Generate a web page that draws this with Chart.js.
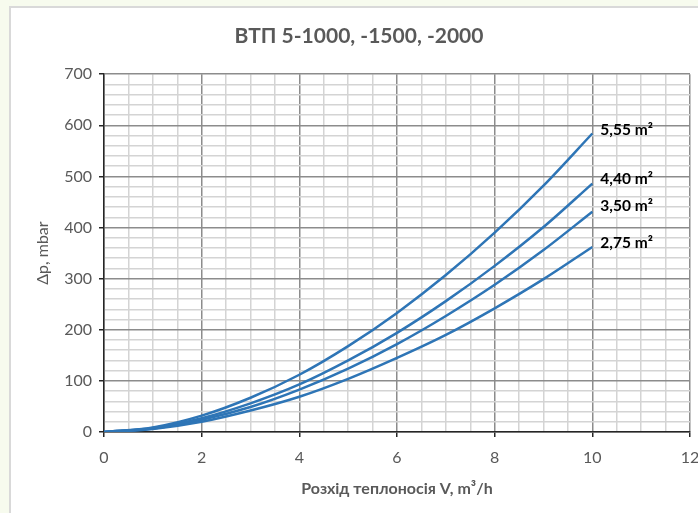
<!DOCTYPE html>
<html>
<head>
<meta charset="utf-8">
<script src="https://cdn.jsdelivr.net/npm/chart.js@4"></script>
<style>
  html, body { margin: 0; padding: 0; background: #f7fbee; }
  #wrap { width: 698px; height: 513px; }
</style>
</head>
<body>
<div id="wrap"><canvas id="chart" width="698" height="513"></canvas></div>
<script>
// flow, m3/h
const flow = [0, 1, 2, 3, 4, 5, 6, 7, 8, 9, 10];
// pressure drop, mbar
const dp555 = [0, 9, 32, 67, 112, 168, 233, 307, 390, 482, 584];
const dp440 = [0, 8, 27, 56, 93, 140, 194, 256, 325, 401, 486];
const dp350 = [0, 7, 24, 49, 83, 124, 172, 227, 288, 356, 431];
const dp275 = [0, 6, 20, 42, 69, 104, 145, 190, 242, 299, 362];
const areaLabels = ['5,55 m²', '4,40 m²', '3,50 m²', '2,75 m²'];
const labelShift = [-3, -5, -6, -4];

const FONT = 'Lato, "Open Sans", sans-serif';
const GREY = '#595959';

function toPoints(ys) {
    return flow.map((x, i) => ({ x: x, y: ys[i] }));
}

const frame = {
    id: 'frame',
    beforeDraw(chart) {
        const ctx = chart.ctx;
        ctx.save();
        ctx.fillStyle = '#f7fbee';
        ctx.fillRect(0, 0, chart.width, chart.height);
        ctx.fillStyle = '#ffffff';
        ctx.fillRect(10, 7, chart.width - 10, chart.height - 7);
        ctx.strokeStyle = '#d9d9d9';
        ctx.lineWidth = 2;
        ctx.beginPath();
        ctx.moveTo(10, chart.height);
        ctx.lineTo(10, 7);
        ctx.lineTo(chart.width, 7);
        ctx.stroke();
        ctx.restore();
    }
};

const endLabels = {
    id: 'endLabels',
    afterDatasetsDraw(chart) {
        const ctx = chart.ctx;
        ctx.save();
        ctx.font = 'bold 15.5px ' + FONT;
        ctx.fillStyle = '#000000';
        ctx.textBaseline = 'middle';
        chart.data.datasets.forEach((ds, i) => {
            const meta = chart.getDatasetMeta(i);
            const last = meta.data[meta.data.length - 1];
            ctx.fillText(areaLabels[i], last.x + 8, last.y + labelShift[i]);
        });
        ctx.restore();
    }
};

const lineStyle = {
    borderColor: '#2e75b6',
    borderWidth: 2.5,
    pointRadius: 0,
    fill: false,
    cubicInterpolationMode: 'monotone'
};

new Chart(document.getElementById('chart'), {
    type: 'line',
    data: {
        datasets: [
            Object.assign({ label: areaLabels[0], data: toPoints(dp555) }, lineStyle),
            Object.assign({ label: areaLabels[1], data: toPoints(dp440) }, lineStyle),
            Object.assign({ label: areaLabels[2], data: toPoints(dp350) }, lineStyle),
            Object.assign({ label: areaLabels[3], data: toPoints(dp275) }, lineStyle)
        ]
    },
    options: {
        responsive: false,
        animation: false,
        layout: { padding: { top: 14, left: 20, right: 0, bottom: 8 } },
        plugins: {
            legend: { display: false },
            tooltip: { enabled: false },
            title: {
                display: true,
                text: 'ВТП 5-1000, -1500, -2000',
                color: GREY,
                font: { family: FONT, size: 21, weight: 'bold' },
                padding: { top: 10, bottom: 25 }
            }
        },
        scales: {
            x: {
                type: 'linear',
                min: 0,
                max: 12,
                ticks: {
                    stepSize: 0.5,
                    autoSkip: false,
                    maxRotation: 0,
                    color: GREY,
                    padding: 11,
                    font: { family: FONT, size: 16 },
                    callback: v => (v % 2 === 0 ? v : '')
                },
                grid: {
                    color: c => (c.tick && c.tick.value % 2 === 0 ? '#8c8c8c' : '#d4d4d4'),
                    lineWidth: 1.5,
                    tickLength: 5,
                    tickColor: c => (c.tick && c.tick.value % 2 === 0 ? '#262626' : 'rgba(0,0,0,0)')
                },
                border: { color: '#262626', width: 1.5 },
                title: {
                    display: true,
                    text: 'Розхід теплоносія V, m³/h',
                    color: GREY,
                    font: { family: FONT, size: 16, weight: 'bold' },
                    padding: { top: 10, bottom: 7 }
                },
                afterFit: s => { s.height = 73; s.paddingRight = 8; }
            },
            y: {
                min: 0,
                max: 700,
                ticks: {
                    stepSize: 20,
                    autoSkip: false,
                    color: GREY,
                    padding: 7,
                    font: { family: FONT, size: 16 },
                    callback: v => (v % 100 === 0 ? v : '')
                },
                grid: {
                    color: c => (c.tick && c.tick.value % 100 === 0 ? '#8c8c8c' : '#d4d4d4'),
                    lineWidth: 1.5,
                    tickLength: 5,
                    tickColor: c => (c.tick && c.tick.value % 100 === 0 ? '#262626' : 'rgba(0,0,0,0)')
                },
                border: { color: '#262626', width: 1.5 },
                title: {
                    display: true,
                    text: 'Δp, mbar',
                    color: GREY,
                    font: { family: FONT, size: 16 },
                    padding: { top: 13, bottom: 4 }
                },
                afterFit: s => { s.width = 84; }
            }
        }
    },
    plugins: [frame, endLabels]
});
</script>
</body>
</html>
